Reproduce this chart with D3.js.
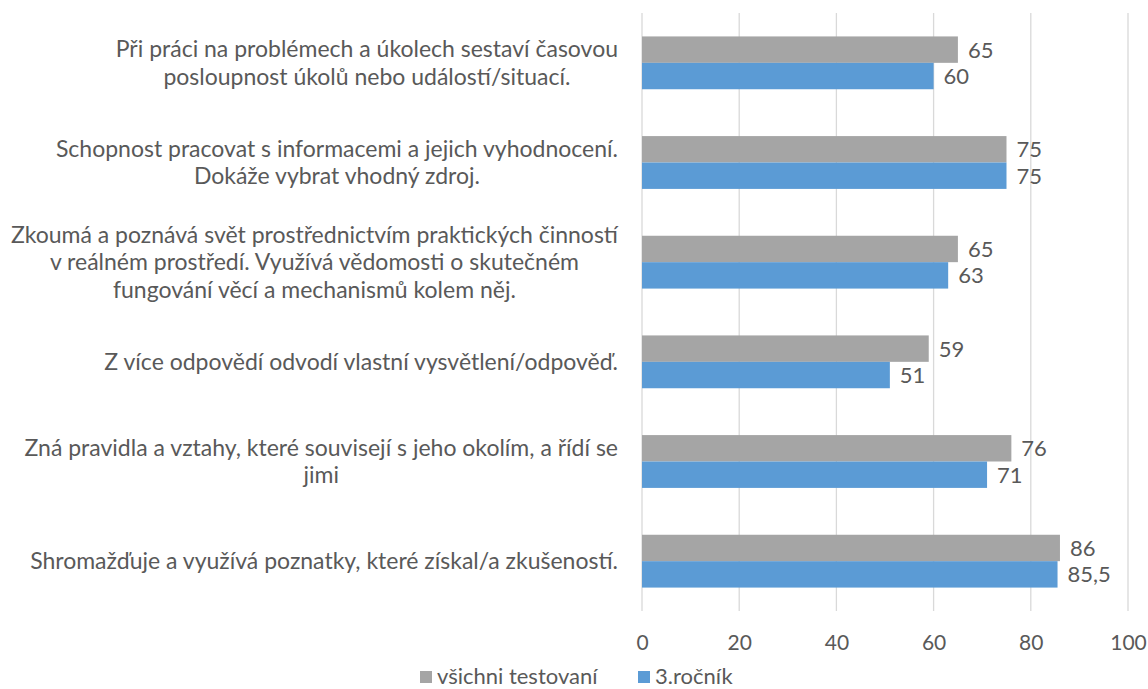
<!DOCTYPE html>
<html>
<head>
<meta charset="utf-8" />
<title>Chart</title>
<style>
    body { margin: 0; background: #fff; }
    text { font-family: Lato, 'Open Sans', sans-serif; fill: #595959; }
</style>
</head>
<body>
<div id="container"></div>
<script src="https://cdn.jsdelivr.net/npm/d3@7"></script>
<script>
    const categories = [
        ['Při práci na problémech a úkolech sestaví časovou', 'posloupnost úkolů nebo událostí/situací.'],
        ['Schopnost pracovat s informacemi a jejich vyhodnocení.', 'Dokáže vybrat vhodný zdroj.'],
        ['Zkoumá a poznává svět prostřednictvím praktických činností', 'v reálném prostředí. Využívá vědomosti o skutečném', 'fungování věcí a mechanismů kolem něj.'],
        ['Z více odpovědí odvodí vlastní vysvětlení/odpověď.'],
        ['Zná pravidla a vztahy, které souvisejí s jeho okolím, a řídí se', 'jimi'],
        ['Shromažďuje a využívá poznatky, které získal/a zkušeností.']
    ]
    const seriesNames = ['všichni testovaní', '3.ročník']
    const allTested = [65, 75, 65, 59, 76, 86]
    const thirdGrade = [60, 75, 63, 51, 71, 85.5]
    const ticks = [0, 20, 40, 60, 80, 100]
    const colors = ['#a5a5a5', '#5b9bd5']

    const W = 1148, H = 689
    const plot = { left: 642, right: 1128, top: 13, bottom: 611 }

    const svg = d3.select('#container').append('svg').attr('width', W).attr('height', H)

    const x = d3.scaleLinear().domain([0, 100]).range([plot.left, plot.right])
    const y = d3.scaleBand().domain(d3.range(categories.length)).range([plot.top, plot.bottom])
        .paddingInner(0.47).paddingOuter(0.235)
    const ySub = d3.scaleBand().domain([0, 1]).range([0, y.bandwidth()])

    // gridlines
    svg.append('g').selectAll('line').data(ticks).join('line')
        .attr('x1', d => x(d)).attr('x2', d => x(d))
        .attr('y1', plot.top).attr('y2', plot.bottom)
        .attr('stroke', '#d9d9d9').attr('stroke-width', 1.3)

    // x axis labels
    const axisX = d3.axisBottom(x).tickValues(ticks).tickSize(0).tickPadding(24)
    const gx = svg.append('g').attr('transform', `translate(0, ${plot.bottom})`).call(axisX)
    gx.select('.domain').remove()
    gx.selectAll('text').attr('font-size', 21).style('font-family', 'Lato, sans-serif').attr('fill', '#595959')

    const series = [allTested, thirdGrade]
    const fmt = v => String(v).replace('.', ',')

    series.forEach((vals, s) => {
        const g = svg.append('g')
        g.selectAll('rect').data(vals).join('rect')
            .attr('x', x(0))
            .attr('y', (d, i) => y(i) + ySub(s))
            .attr('width', d => x(d) - x(0))
            .attr('height', ySub.bandwidth())
            .attr('fill', colors[s])
        g.selectAll('text').data(vals).join('text')
            .attr('x', d => x(d) + 10)
            .attr('y', (d, i) => y(i) + ySub(s) + ySub.bandwidth() / 2)
            .attr('dy', '0.36em')
            .attr('font-size', 22)
            .text(fmt)
    })

    // category labels: block right-aligned, lines centred inside
    const labelRight = 618
    const lineH = 27.5
    categories.forEach((lines, i) => {
        const cy = y(i) + y.bandwidth() / 2
        const g = svg.append('g')
        const t = g.selectAll('text').data(lines).join('text')
            .attr('font-size', 23)
            .attr('text-anchor', 'middle')
            .attr('y', (d, j) => cy + (j - (lines.length - 1) / 2) * lineH)
            .attr('dy', '0.35em')
            .text(d => d)
        let maxW = 0
        t.each(function () { maxW = Math.max(maxW, this.getComputedTextLength()) })
        t.attr('x', labelRight - maxW / 2)
    })

    // legend
    const legend = svg.append('g').attr('transform', 'translate(0, 676)')
    const legendX = [420, 638]
    seriesNames.forEach((name, s) => {
        legend.append('rect').attr('x', legendX[s]).attr('y', -5).attr('width', 12).attr('height', 12).attr('fill', colors[s])
        legend.append('text').attr('x', legendX[s] + 17).attr('y', 0).attr('dy', '0.35em')
            .attr('font-size', 22).text(name)
    })
</script>
</body>
</html>
